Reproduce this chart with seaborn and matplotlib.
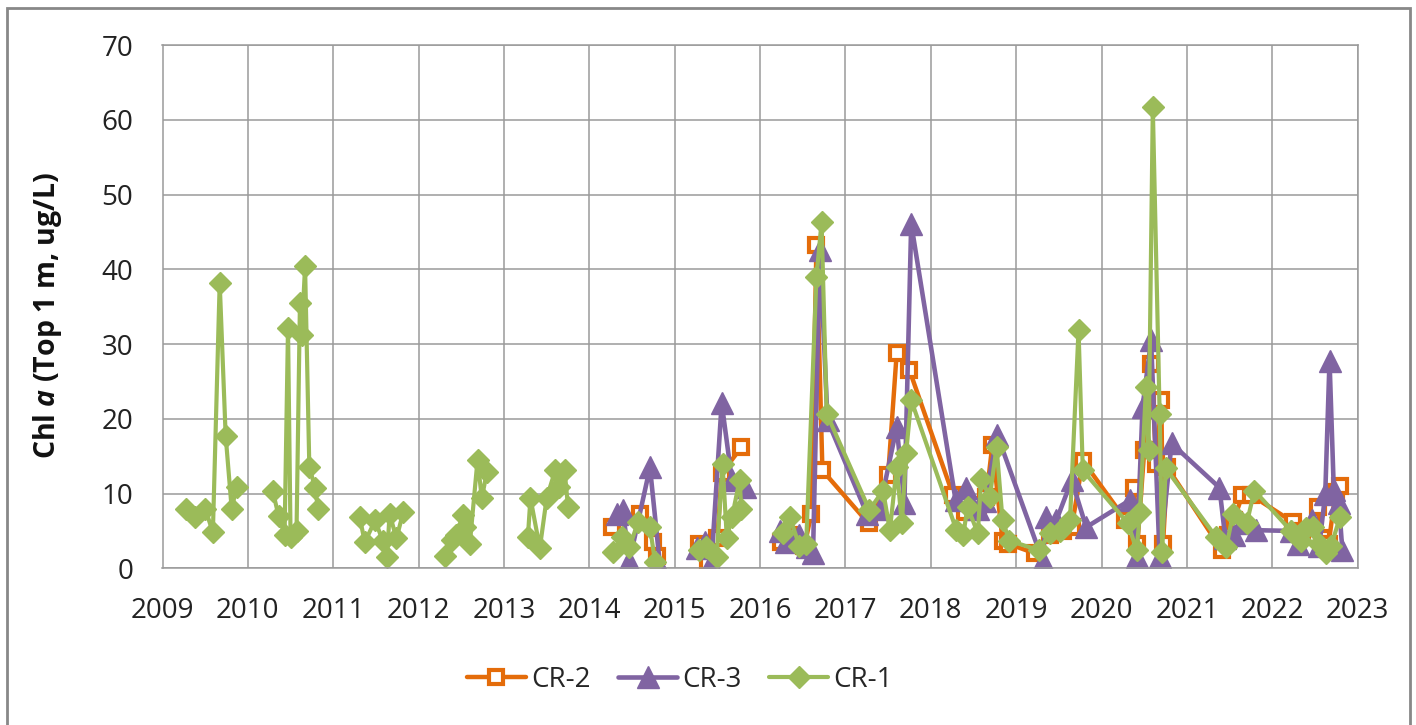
import numpy as np
import pandas as pd
import matplotlib
matplotlib.use("Agg")
import matplotlib.pyplot as plt
from matplotlib.lines import Line2D
from matplotlib.patches import Rectangle
import seaborn as sns

# ---------------- data ----------------
series_names = ["CR-2", "CR-3", "CR-1"]

cr1_dates = [
    2009.28, 2009.38, 2009.50, 2009.59, 2009.67, 2009.74, 2009.81, 2009.87,
    2010.29, 2010.36, 2010.43, 2010.47, 2010.50, 2010.57, 2010.61, 2010.63, 2010.67, 2010.72, 2010.79, 2010.82,
    2011.31, 2011.37, 2011.49, 2011.58, 2011.63, 2011.66, 2011.74, 2011.82,
    2012.31, 2012.39, 2012.44, 2012.52, 2012.54, 2012.60, 2012.69, 2012.74, 2012.80,
    2013.28, 2013.31, 2013.42, 2013.50, 2013.60, 2013.65, 2013.71, 2013.75,
    2014.28, 2014.38, 2014.47, 2014.57, 2014.71, 2014.77,
    2015.29, 2015.37, 2015.49, 2015.56, 2015.61, 2015.67, 2015.76, 2015.78,
    2016.27, 2016.35, 2016.46, 2016.54, 2016.66, 2016.72, 2016.78,
    2017.28, 2017.44, 2017.52, 2017.60, 2017.66, 2017.71, 2017.77,
    2018.30, 2018.38, 2018.43, 2018.55, 2018.59, 2018.69, 2018.77, 2018.84, 2018.92,
    2019.27, 2019.39, 2019.51, 2019.63, 2019.73, 2019.78,
    2020.31, 2020.41, 2020.45, 2020.52, 2020.55, 2020.60, 2020.68, 2020.71, 2020.75,
    2021.34, 2021.46, 2021.54, 2021.70, 2021.79,
    2022.22, 2022.34, 2022.39, 2022.48, 2022.55, 2022.63, 2022.69, 2022.79]
cr1_vals = [
    8.0, 6.8, 8.0, 4.8, 38.2, 17.7, 8.0, 10.9,
    10.4, 7.0, 4.5, 32.1, 4.2, 5.0, 35.5, 31.2, 40.4, 13.5, 10.7, 8.0,
    6.8, 3.5, 6.4, 3.7, 1.5, 7.3, 4.0, 7.5,
    1.7, 3.8, 4.4, 7.1, 5.5, 3.3, 14.5, 9.4, 12.9,
    4.2, 9.4, 2.7, 9.4, 13.1, 10.9, 13.1, 8.2,
    2.2, 4.2, 2.8, 6.2, 5.5, 0.8,
    2.4, 2.8, 1.5, 14.0, 4.1, 6.8, 11.8, 8.0,
    4.7, 6.8, 3.0, 3.3, 39.0, 46.3, 20.7,
    7.8, 10.4, 5.1, 13.5, 6.0, 15.4, 22.5,
    5.1, 4.5, 8.2, 4.7, 12.0, 9.5, 16.2, 6.4, 3.7,
    2.4, 4.7, 5.0, 6.4, 31.9, 13.1,
    6.0, 2.4, 7.5, 24.3, 15.8, 61.7, 20.7, 2.2, 13.4,
    4.2, 2.8, 7.3, 6.0, 10.4,
    5.0, 3.7, 5.4, 5.5, 3.3, 2.0, 3.0, 6.8]

cr2_dates = [
    2014.26, 2014.59, 2014.75, 2014.79,
    2015.29, 2015.39, 2015.50, 2015.55, 2015.78,
    2016.25, 2016.35, 2016.52, 2016.60, 2016.66, 2016.73,
    2017.27, 2017.50, 2017.60, 2017.75,
    2018.26, 2018.40, 2018.55, 2018.65, 2018.72, 2018.84, 2018.90,
    2019.22, 2019.40, 2019.55, 2019.65, 2019.78,
    2020.28, 2020.38, 2020.42, 2020.50, 2020.58, 2020.64, 2020.70, 2020.72, 2020.77,
    2021.41, 2021.48, 2021.55, 2021.65, 2021.75,
    2022.24, 2022.35, 2022.53, 2022.58, 2022.66, 2022.74, 2022.79]
cr2_vals = [
    5.5, 7.3, 3.5, 1.7,
    3.3, 0.8, 4.0, 12.7, 16.2,
    3.5, 4.5, 3.0, 7.3, 43.2, 13.1,
    6.0, 12.5, 28.8, 26.5,
    9.8, 7.5, 8.5, 9.5, 16.5, 3.7, 3.3,
    2.0, 4.5, 5.0, 5.5, 14.4,
    6.5, 10.8, 3.3, 15.8, 27.4, 14.0, 22.5, 3.3, 13.5,
    2.4, 4.5, 6.5, 9.8, 9.8,
    6.2, 5.0, 8.2, 4.0, 3.3, 10.2, 11.0]

cr3_dates = [
    2014.32, 2014.39, 2014.47, 2014.71, 2014.83,
    2015.26, 2015.35, 2015.43, 2015.55, 2015.67, 2015.82,
    2016.23, 2016.30, 2016.45, 2016.55, 2016.62, 2016.70, 2016.79,
    2017.25, 2017.40, 2017.60, 2017.69, 2017.77,
    2018.29, 2018.41, 2018.55, 2018.63, 2018.78,
    2019.31, 2019.35, 2019.47, 2019.65, 2019.82,
    2020.33, 2020.41, 2020.48, 2020.58, 2020.68, 2020.82,
    2021.38, 2021.45, 2021.55, 2021.65, 2021.81,
    2022.22, 2022.30, 2022.46, 2022.55, 2022.62, 2022.67, 2022.72, 2022.78, 2022.82]
cr3_vals = [
    7.3, 7.8, 1.0, 13.5, 0.1,
    2.7, 3.5, 0.7, 22.1, 11.8, 10.9,
    5.0, 3.5, 4.5, 2.8, 2.0, 42.6, 19.8,
    7.3, 8.0, 18.9, 8.7, 46.1,
    9.1, 10.8, 8.0, 9.0, 17.8,
    1.0, 6.8, 6.4, 11.8, 5.5,
    9.1, 1.5, 21.6, 30.5, 1.5, 16.7,
    10.8, 4.0, 4.5, 6.0, 5.1,
    5.0, 3.3, 6.4, 3.0, 10.0, 27.8, 10.5, 8.7, 2.4]

year_ticks = list(range(2009, 2024))
y_ticks = list(range(0, 80, 10))
y_label = r"Chl $\mathit{a}$ (Top 1 m, ug/L)"

# ---------------- style ----------------
sns.set_theme(style="white")
plt.rcParams["font.family"] = ["Open Sans", "DejaVu Sans"]
plt.rcParams["mathtext.fontset"] = "custom"
plt.rcParams["mathtext.it"] = "Open Sans:italic:bold"
plt.rcParams["mathtext.rm"] = "Open Sans:bold"
plt.rcParams["mathtext.bf"] = "Open Sans:bold"

colors = {"CR-2": "#E46C0A", "CR-3": "#8064A2", "CR-1": "#9BBB59"}
grid_col = "#9A9A9A"


def make_df(dates, vals, name):
    d = pd.DataFrame({"date": dates, "value": vals})
    d["site"] = name
    # breaks in the record (no line across yearly gaps before 2016)
    d["seg"] = np.where(d["date"] < 2016, np.floor(d["date"]), 2016).astype(int)
    return d


df = pd.concat([
    make_df(cr2_dates, cr2_vals, "CR-2"),
    make_df(cr3_dates, cr3_vals, "CR-3"),
    make_df(cr1_dates, cr1_vals, "CR-1"),
], ignore_index=True)

W, H = 1416, 725
fig = plt.figure(figsize=(W / 100, H / 100), dpi=100)
ax = fig.add_axes([162.5 / W, 1 - 568.3 / H, (1357.7 - 162.5) / W, (568.3 - 45.1) / H])

styles = {
    "CR-2": dict(marker="s", markersize=10, markerfacecolor="white",
                 markeredgecolor=colors["CR-2"], markeredgewidth=3.0, linewidth=3.2),
    "CR-3": dict(marker="^", markersize=16, markerfacecolor=colors["CR-3"],
                 markeredgecolor=colors["CR-3"], markeredgewidth=1, linewidth=3.3),
    "CR-1": dict(marker="D", markersize=11, markerfacecolor=colors["CR-1"],
                 markeredgecolor=colors["CR-1"], markeredgewidth=1, linewidth=3.0),
}

for name in series_names:
    sub = df[df["site"] == name]
    sns.lineplot(data=sub, x="date", y="value", units="seg", estimator=None,
                 sort=False, color=colors[name], legend=False, ax=ax,
                 **styles[name])

ax.set_xlim(2009, 2023)
ax.set_ylim(0, 70)
ax.set_xticks(year_ticks)
ax.set_xticklabels([str(y) for y in year_ticks])
ax.set_yticks(y_ticks)
ax.grid(True, color=grid_col, linewidth=1.1)
ax.set_axisbelow(True)
for s in ax.spines.values():
    s.set_color(grid_col)
    s.set_linewidth(1.1)
ax.tick_params(axis="both", which="major", direction="out", length=8, width=1.1,
               color=grid_col, labelsize=20, labelcolor="#222222")
ax.tick_params(axis="x", pad=13)
ax.tick_params(axis="y", pad=13)
ax.set_xlabel("")
ax.set_ylabel(y_label, fontsize=20.5, fontweight="bold", color="#111111")
ax.yaxis.set_label_coords(64 / W, 1 - 315 / H, transform=fig.transFigure)

handles = [Line2D([], [], color=colors[n], **styles[n]) for n in series_names]
fig.legend(handles, series_names, loc="center", bbox_to_anchor=(680 / W, 1 - 680 / H),
           ncol=3, frameon=False, fontsize=20, handlelength=2.1, handletextpad=0.2,
           columnspacing=1.0)

fig.patches.append(Rectangle((7 / W, -0.02), (1410 - 7) / W, 1 - 8 / H + 0.02,
                             transform=fig.transFigure, fill=False,
                             edgecolor="#888888", linewidth=2))

fig.savefig("out.png", dpi=100)
